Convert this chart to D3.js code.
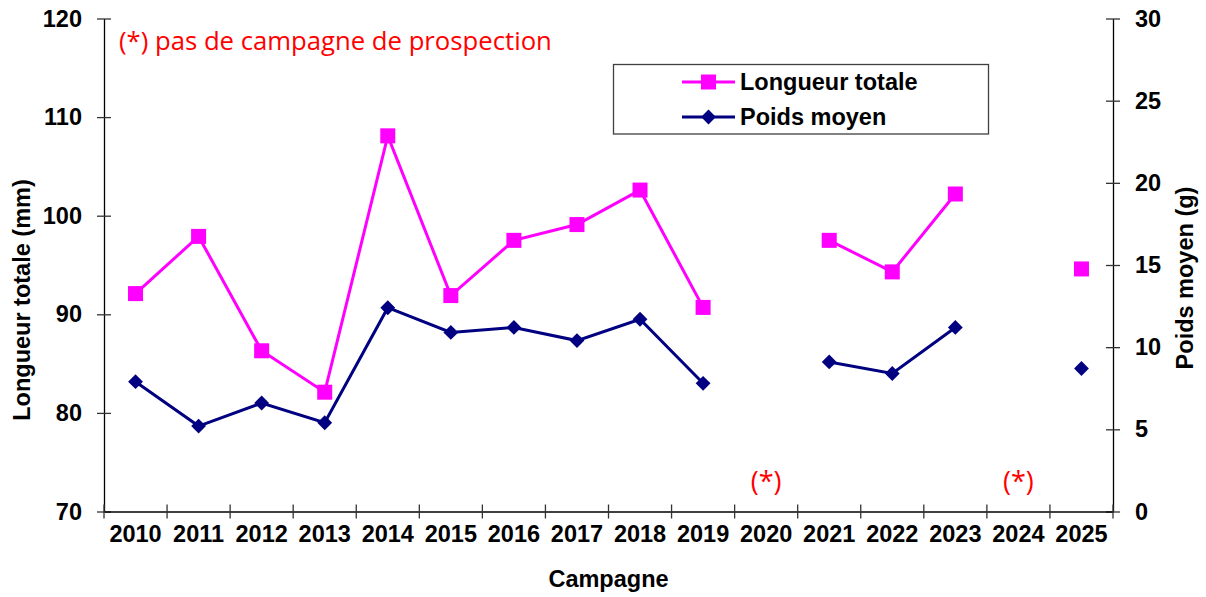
<!DOCTYPE html>
<html>
<head>
<meta charset="utf-8">
<script src="https://cdn.jsdelivr.net/npm/d3@7/dist/d3.min.js"></script>
<style>
  html, body { margin: 0; padding: 0; background: #fff; }
  svg { display: block; }
  text { font-family: "Liberation Sans", Arial, sans-serif; }
</style>
</head>
<body>
<svg id="chart" width="1206" height="597"></svg>
<script>
// Campaign years and the two yearly series (null = no survey that year)
const years = ["2010","2011","2012","2013","2014","2015","2016","2017","2018","2019","2020","2021","2022","2023","2024","2025"];
const longueurTotale = [92.1, 97.9, 86.3, 82.1, 108.1, 91.9, 97.5, 99.1, 102.6, 90.7, null, 97.5, 94.3, 102.2, null, 94.6];
const poidsMoyen = [7.9, 5.2, 6.6, 5.4, 12.4, 10.9, 11.2, 10.4, 11.7, 7.8, null, 9.1, 8.4, 11.2, null, 8.7];
const noSurveyYears = ["2020", "2024"];
const leftTicks = [70, 80, 90, 100, 110, 120];
const rightTicks = [0, 5, 10, 15, 20, 25, 30];

const svg = d3.select("#chart");
const plot = { left: 104, right: 1113, top: 18.5, bottom: 511.5 };

const x = d3.scaleBand().domain(years).range([plot.left, plot.right]);
const yL = d3.scaleLinear().domain([70, 120]).range([plot.bottom, plot.top]);
const yR = d3.scaleLinear().domain([0, 30]).range([plot.bottom, plot.top]);

const MAGENTA = "#FF00FF", NAVY = "#000080", RED = "#FF0000";
const labelFont = "bold 23.5px 'Liberation Sans', Arial, sans-serif";

// ---- Axes ----
const axisColor = "#000";
// left axis
const gL = svg.append("g").attr("transform", `translate(${plot.left},0)`)
  .call(d3.axisLeft(yL).tickValues(leftTicks).tickSize(0).tickPadding(22));
gL.select(".domain").attr("stroke", axisColor).attr("stroke-width", 1.3);
gL.selectAll(".tick text").style("font", labelFont).attr("fill", "#000");
gL.selectAll(".tick").append("line").attr("x1", -7).attr("x2", 7).attr("stroke", "#333").attr("stroke-width", 1.3);

// right axis
const gR = svg.append("g").attr("transform", `translate(${plot.right},0)`)
  .call(d3.axisRight(yR).tickValues(rightTicks).tickSize(0).tickPadding(22));
gR.select(".domain").attr("stroke", axisColor).attr("stroke-width", 1.3);
gR.selectAll(".tick text").style("font", labelFont).attr("fill", "#000");
gR.selectAll(".tick").append("line").attr("x1", -7).attr("x2", 7).attr("stroke", "#333").attr("stroke-width", 1.3);

// bottom axis: category labels centred in bands, ticks on band boundaries
const gB = svg.append("g").attr("transform", `translate(0,${plot.bottom})`)
  .call(d3.axisBottom(x).tickSize(0).tickPadding(14));
gB.select(".domain").attr("stroke", axisColor).attr("stroke-width", 1.3);
gB.selectAll(".tick text").style("font", labelFont).attr("fill", "#000").attr("dy", "0.71em");
const boundaries = years.map(d => x(d)).concat([x(years[years.length - 1]) + x.bandwidth()]);
svg.append("g").selectAll("line").data(boundaries).join("line")
  .attr("x1", d => d).attr("x2", d => d)
  .attr("y1", plot.bottom - 7).attr("y2", plot.bottom + 7)
  .attr("stroke", "#333").attr("stroke-width", 1.3);

// ---- Axis titles ----
svg.append("text").attr("x", plot.left + (plot.right - plot.left) / 2).attr("y", 587)
  .attr("text-anchor", "middle").style("font", labelFont).text("Campagne");
svg.append("text").attr("transform", "translate(30,300) rotate(-90)")
  .attr("text-anchor", "middle").style("font", labelFont).text("Longueur totale (mm)");
svg.append("text").attr("transform", "translate(1193,278) rotate(-90)")
  .attr("text-anchor", "middle").style("font", labelFont).text("Poids moyen (g)");

// ---- Series ----
const cx = d => x(d) + x.bandwidth() / 2;
const lineL = d3.line().defined(d => d.v != null).x(d => cx(d.year)).y(d => yL(d.v));
const lineR = d3.line().defined(d => d.v != null).x(d => cx(d.year)).y(d => yR(d.v));
const dataL = years.map((year, i) => ({ year, v: longueurTotale[i] }));
const dataR = years.map((year, i) => ({ year, v: poidsMoyen[i] }));

svg.append("path").datum(dataR).attr("d", lineR)
  .attr("fill", "none").attr("stroke", NAVY).attr("stroke-width", 3);
svg.append("path").datum(dataL).attr("d", lineL)
  .attr("fill", "none").attr("stroke", MAGENTA).attr("stroke-width", 3);

// diamonds: rotated squares
svg.append("g").selectAll("path").data(dataR.filter(d => d.v != null)).join("path")
  .attr("d", d3.symbol().type(d3.symbolSquare).size(110))
  .attr("transform", d => `translate(${cx(d.year)},${yR(d.v)}) rotate(45)`)
  .attr("fill", NAVY);
svg.append("g").selectAll("rect").data(dataL.filter(d => d.v != null)).join("rect")
  .attr("x", d => cx(d.year) - 7.5).attr("y", d => yL(d.v) - 7.5)
  .attr("width", 15).attr("height", 15).attr("fill", MAGENTA);

// ---- Notes ----
const noteFont = "25.7px 'Open Sans', 'Noto Sans', sans-serif";
svg.append("text").attr("x", 119).attr("y", 50).attr("fill", RED)
  .style("font", noteFont).text("(*) pas de campagne de prospection");
svg.append("g").selectAll("text").data(noSurveyYears).join("text")
  .attr("x", d => cx(d)).attr("y", 491).attr("text-anchor", "middle")
  .attr("fill", RED).style("font", "500 27px 'Open Sans', 'Noto Sans', sans-serif").text("(*)");

// ---- Legend ----
const lg = svg.append("g");
lg.append("rect").attr("x", 613.5).attr("y", 64.5).attr("width", 375).attr("height", 69.5)
  .attr("fill", "#fff").attr("stroke", "#404040").attr("stroke-width", 1.3);
const items = [
  { label: "Longueur totale", color: MAGENTA, y: 82, shape: "square" },
  { label: "Poids moyen", color: NAVY, y: 117, shape: "diamond" }
];
items.forEach(it => {
  lg.append("line").attr("x1", 682).attr("x2", 735).attr("y1", it.y).attr("y2", it.y)
    .attr("stroke", it.color).attr("stroke-width", 3);
  if (it.shape === "square") {
    lg.append("rect").attr("x", 708.5 - 7.5).attr("y", it.y - 7.5).attr("width", 15).attr("height", 15).attr("fill", it.color);
  } else {
    lg.append("path").attr("d", d3.symbol().type(d3.symbolSquare).size(110)())
      .attr("transform", `translate(708.5,${it.y}) rotate(45)`).attr("fill", it.color);
  }
  lg.append("text").attr("x", 740).attr("y", it.y).attr("dy", "0.36em")
    .style("font", labelFont).text(it.label);
});
</script>
</body>
</html>
